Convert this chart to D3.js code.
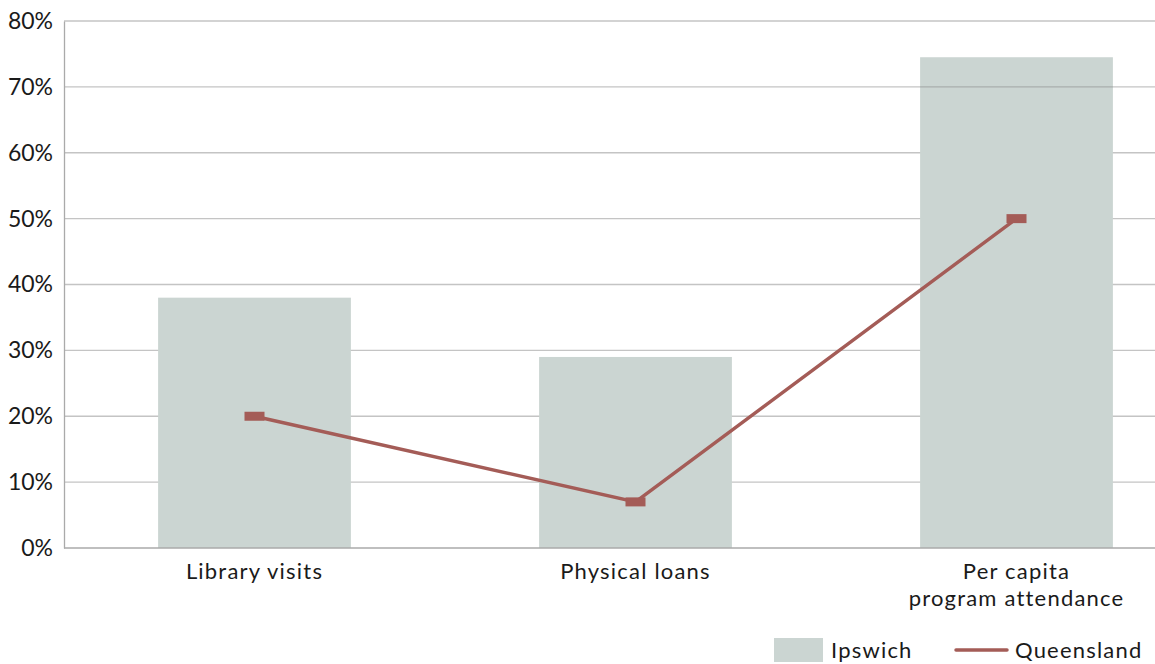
<!DOCTYPE html>
<meta charset="utf-8">
<script src="https://d3js.org/d3.v7.min.js"></script>
<style>
  body { margin: 0; background: #fff; }
  text { font-family: Lato, "Noto Sans", sans-serif; fill: #1a1a1a; }
</style>
<div id="my_dataviz"></div>
<script>

// data
var categories = ["Library visits", "Physical loans", "Per capita\nprogram attendance"];
var ipswich = [38, 29, 74.5];
var queensland = [20, 7, 50];
var yTicks = [0, 10, 20, 30, 40, 50, 60, 70, 80];

var W = 1155, H = 664;
var margin = {top: 21, left: 64, bottom: 116};
var height = H - margin.top - margin.bottom;

var svg = d3.select("#my_dataviz")
  .append("svg")
    .attr("width", W)
    .attr("height", H);

var g = svg.append("g")
  .attr("transform", "translate(" + margin.left + "," + margin.top + ")");

// x band runs past the right edge, like the original
var x = d3.scaleBand()
  .domain(categories)
  .range([0, 1143])
  .paddingInner(0.494)
  .paddingOuter(0.247);

var y = d3.scaleLinear()
  .domain([0, 80])
  .range([height, 0]);

// gridlines
g.selectAll(".grid")
  .data(yTicks.slice(1))
  .enter()
  .append("line")
    .attr("x1", 0)
    .attr("x2", W - margin.left)
    .attr("y1", function(d) { return y(d); })
    .attr("y2", function(d) { return y(d); })
    .attr("stroke", "#c4c4c4")
    .attr("stroke-width", 1.3);

// bars
g.selectAll("rect.bar")
  .data(ipswich)
  .enter()
  .append("rect")
    .attr("class", "bar")
    .attr("x", function(d, i) { return x(categories[i]); })
    .attr("y", function(d) { return y(d); })
    .attr("width", x.bandwidth())
    .attr("height", function(d) { return height - y(d); })
    .attr("fill", "#cbd5d2");

// the 70% line shows through the tall bar in the original
g.append("line")
  .attr("x1", x(categories[2])).attr("x2", x(categories[2]) + x.bandwidth())
  .attr("y1", y(70)).attr("y2", y(70))
  .attr("stroke", "#a9aeac").attr("stroke-width", 1.3);

// axes
var yAxis = g.append("g")
  .call(d3.axisLeft(y).tickValues(yTicks).tickSize(0).tickPadding(11)
    .tickFormat(function(d) { return d + "%"; }));
yAxis.select(".domain").attr("stroke", "#aaaaaa").attr("stroke-width", 1.3);
yAxis.selectAll("text").attr("font-size", 23).attr("fill", "#1a1a1a")
  .style("font-family", "Lato, 'Noto Sans', sans-serif");

g.append("line")
  .attr("x1", 0).attr("x2", W - margin.left)
  .attr("y1", y(0)).attr("y2", y(0))
  .attr("stroke", "#aaaaaa").attr("stroke-width", 1.3);

// category labels
g.selectAll(".cat")
  .data(categories)
  .enter()
  .append("text")
    .attr("class", "cat")
    .attr("text-anchor", "middle")
    .attr("font-size", 22)
    .attr("letter-spacing", 1.2)
    .attr("x", function(d) { return x(d) + x.bandwidth() / 2; })
    .attr("y", height + 31)
    .each(function(d) {
      var t = d3.select(this);
      d.split("\n").forEach(function(line, k) {
        t.append("tspan")
          .attr("x", x(d) + x.bandwidth() / 2)
          .attr("dy", k === 0 ? 0 : 27)
          .text(line);
      });
    });

// Queensland line
var line = d3.line()
  .x(function(d, i) { return x(categories[i]) + x.bandwidth() / 2; })
  .y(function(d) { return y(d); });

g.append("path")
  .datum(queensland)
  .attr("d", line)
  .attr("fill", "none")
  .attr("stroke", "#a45c57")
  .attr("stroke-width", 3.4);

g.selectAll(".marker")
  .data(queensland)
  .enter()
  .append("rect")
    .attr("class", "marker")
    .attr("x", function(d, i) { return x(categories[i]) + x.bandwidth() / 2 - 10; })
    .attr("y", function(d) { return y(d) - 4.5; })
    .attr("width", 20)
    .attr("height", 9)
    .attr("fill", "#a45c57");

// legend
var legend = svg.append("g");
legend.append("rect")
  .attr("x", 774).attr("y", 638).attr("width", 49).attr("height", 24)
  .attr("fill", "#cbd5d2");
legend.append("text")
  .attr("x", 831).attr("y", 658).attr("font-size", 22).attr("letter-spacing", 1.2)
  .text("Ipswich");
legend.append("line")
  .attr("x1", 956).attr("x2", 1007).attr("y1", 650).attr("y2", 650)
  .attr("stroke", "#a45c57").attr("stroke-width", 3.5).attr("stroke-linecap", "round");
legend.append("text")
  .attr("x", 1015).attr("y", 658).attr("font-size", 22).attr("letter-spacing", 1.2)
  .text("Queensland");

</script>
